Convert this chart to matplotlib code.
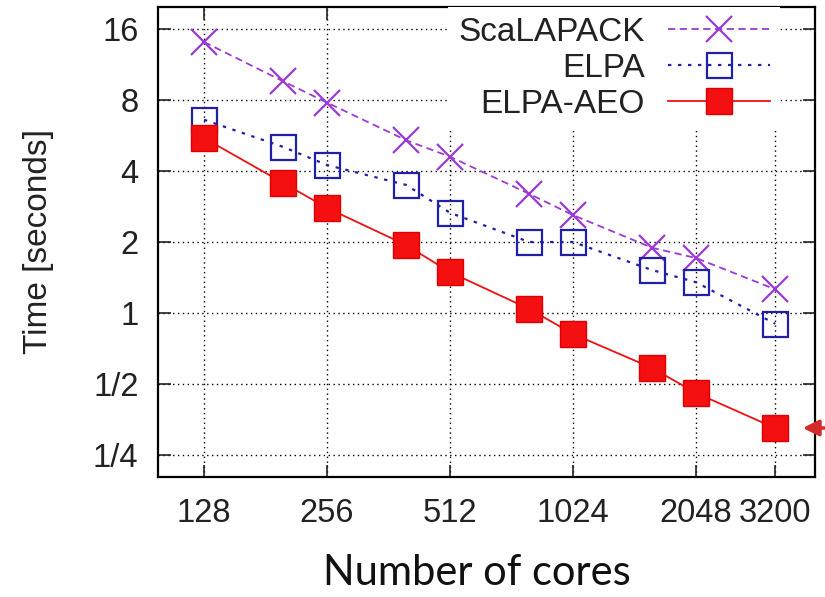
import matplotlib
matplotlib.use('Agg')
from matplotlib import pyplot as plt


cores = [128, 200, 256, 400, 512, 800, 1024, 1600, 2048, 3200]
t_scalapack = [14.1, 9.6, 7.8, 5.4, 4.6, 3.2, 2.6, 1.89, 1.71, 1.26]
t_elpa = [6.6, 5.06, 4.24, 3.49, 2.66, 2.0, 2.0, 1.52, 1.35, 0.90]
t_aeo = [5.52, 3.56, 2.79, 1.94, 1.49, 1.04, 0.815, 0.584, 0.458, 0.325]

xticks = [128, 256, 512, 1024, 2048, 3200]
xtick_labels = ['128', '256', '512', '1024', '2048', '3200']
yticks = [16, 8, 4, 2, 1, 0.5, 0.25]
ytick_labels = ['16', '8', '4', '2', '1', '1/2', '1/4']

plt.rcParams['font.family'] = ['Liberation Sans', 'DejaVu Sans']

fig = plt.figure(figsize=(8.25, 5.97), dpi=100)
ax = fig.add_axes([158/825., 1 - 477/597., (815 - 158)/825., (477 - 7)/597.])

ax.set_xscale('log', base=2)
ax.set_yscale('log', base=2)

ax.plot(cores, t_scalapack, color='#9b3ad6', ls=(0, (4, 2.5)), lw=1.3,
        marker='x', ms=19, mew=1.6, label='ScaLAPACK')
ax.plot(cores, t_elpa, color='#1f1fa8', ls=(0, (1.5, 3)), lw=1.6,
        marker='s', ms=18, mfc='none', mew=1.6, label='ELPA')
ax.plot(cores, t_aeo, color='#f01010', ls='-', lw=1.3,
        marker='s', ms=18.5, mfc='#f41010', mec='#e00000', label='ELPA-AEO')

ax.set_xlim(2**6.626, 2**11.967)
ax.set_ylim(2**-2.31, 2**4.31)

ax.set_xticks(xticks)
ax.set_xticklabels(xtick_labels)
ax.set_yticks(yticks)
ax.set_yticklabels(ytick_labels)
ax.minorticks_off()

ax.grid(True, which='major', color='black', ls=(0, (1, 2.5)), lw=1.0)
ax.tick_params(direction='in', length=9, width=1.2, top=True, right=True,
               labelsize=23.5, colors='#222222', pad=14)
ax.tick_params(axis='x', pad=15)
for sp in ax.spines.values():
    sp.set_linewidth(1.6)

ax.set_ylabel('Time [seconds]', fontsize=24, color='#222222', labelpad=28)

fig.text(477/825., 1 - 585/597., 'Number of cores', fontsize=30,
         family=['Lato', 'DejaVu Sans'], ha='center', va='baseline',
         color='#111111')

leg = ax.legend(loc='upper right', bbox_to_anchor=(0.947, 1.0),
                markerfirst=False, fontsize=24, handlelength=3.06,
                handletextpad=0.7, labelspacing=0.15, borderpad=0.3,
                borderaxespad=0.0, frameon=True, framealpha=1.0,
                fancybox=False)
leg.get_frame().set_edgecolor('none')
leg.get_frame().set_facecolor('white')
for t in leg.get_texts():
    t.set_ha('right')
    t.set_color('#222222')

ax.annotate('', xy=(800/825., 1 - 428/597.), xycoords='figure fraction',
            xytext=(1.02, 1 - 428/597.), textcoords='figure fraction',
            arrowprops=dict(arrowstyle='-|>', color='#d42a2a', lw=2.5,
                            mutation_scale=24))

fig.savefig('out.png', dpi=100)
